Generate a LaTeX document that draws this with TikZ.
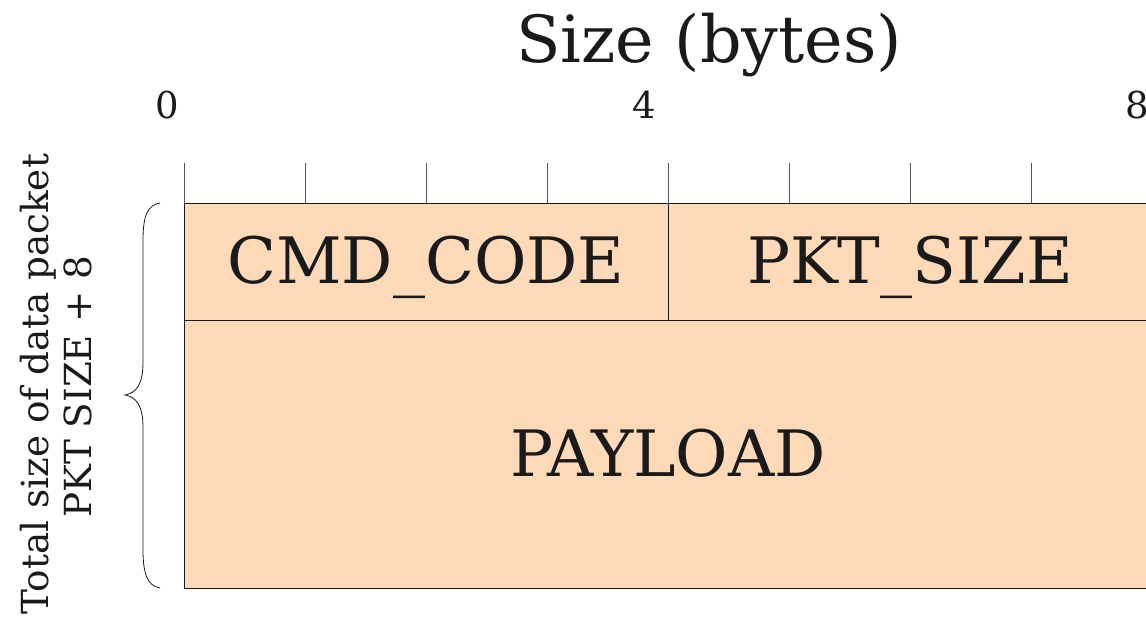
\documentclass[tikz,border=0pt]{standalone}
\usepackage{fontspec}
\setmainfont{DejaVu Serif}
\definecolor{peach}{HTML}{FFDAB9}
\definecolor{ink}{HTML}{1A1A1A}
\definecolor{tickgray}{HTML}{555555}
\begin{document}
\begin{tikzpicture}[x=1pt,y=-1pt,
  cell/.style={draw=ink, line width=0.8pt, fill=peach, rectangle, inner sep=0pt, anchor=north west},
  biglbl/.style={text=ink, inner sep=0pt, anchor=base, font=\fontsize{64}{70}\selectfont},
  titlelbl/.style={text=ink, inner sep=0pt, anchor=base, font=\fontsize{65}{72}\selectfont},
  ticklbl/.style={text=ink, inner sep=0pt, anchor=base, font=\fontsize{37}{42}\selectfont},
  sidelbl/.style={text=ink, inner sep=0pt, anchor=base, rotate=90, font=\fontsize{37.3}{42}\selectfont},
  tickline/.style={draw=tickgray, line width=1pt}]
\useasboundingbox (0,0) rectangle (1146,620);
\clip (0,0) rectangle (1146,620);
% cells
\node[cell, minimum width=484pt, minimum height=117pt] (cmd) at (184,203) {};
\node[cell, minimum width=484pt, minimum height=117pt] (pkt) at (668,203) {};
\node[cell, minimum width=968pt, minimum height=268pt] (pay) at (184,320) {};
% ticks
\foreach \i in {0,...,8} \draw[tickline] (184+121*\i,163) -- (184+121*\i,203);
% labels
\node[biglbl] (cmdt) at (426,284) {CMD\_CODE};
\node[biglbl] (pktt) at (910,284) {PKT\_SIZE};
\node[biglbl] (payt) at (668,476) {PAYLOAD};
\node[titlelbl] (title) at (709,63) {Size (bytes)};
\node[ticklbl] (t0) at (167,119) {0};
\node[ticklbl] (t4) at (644,119) {4};
\node[ticklbl] (t8) at (1137,119) {8};
\node[sidelbl] (side1) at (48,384) {Total size of data packet};
\node[sidelbl] (side2) at (91,387) {PKT SIZE + 8};
% brace
\draw[ink, line width=0.8pt] (160,203) .. controls (148,205) and (143,215) .. (143,240) -- (143,362)
  .. controls (143,385) and (136,393) .. (125,395)
  .. controls (136,397) and (143,405) .. (143,428) -- (143,550)
  .. controls (143,575) and (148,586) .. (160,588);
\end{tikzpicture}
\end{document}
